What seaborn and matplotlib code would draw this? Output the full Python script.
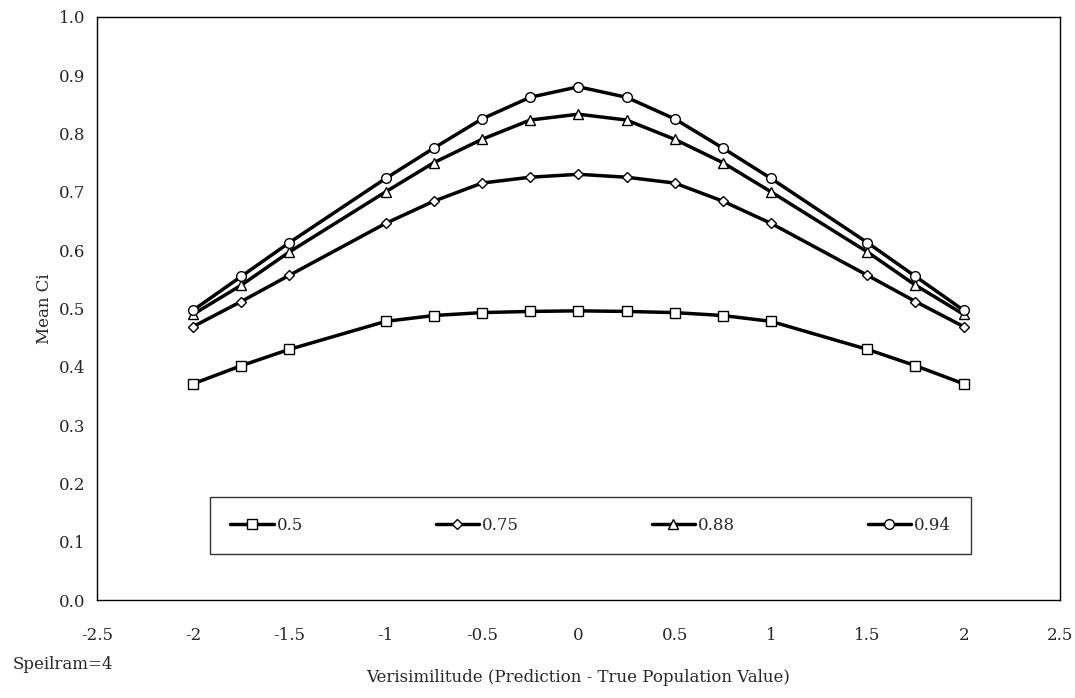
import numpy as np
import pandas as pd
import matplotlib
matplotlib.use("Agg")
import matplotlib.pyplot as plt
import seaborn as sns

x_half = [-2, -1.75, -1.5, -1, -0.75, -0.5, -0.25, 0]
s050 = [0.371, 0.402, 0.430, 0.478, 0.488, 0.493, 0.495, 0.496]
s075 = [0.469, 0.512, 0.557, 0.646, 0.684, 0.715, 0.725, 0.730]
s088 = [0.490, 0.540, 0.597, 0.700, 0.750, 0.790, 0.823, 0.833]
s094 = [0.497, 0.555, 0.613, 0.723, 0.775, 0.825, 0.862, 0.880]

x_vals = x_half + [-v for v in x_half[-2::-1]]
def mirror(s):
    return s + s[-2::-1]

series = {"0.5": (s050, "s"), "0.75": (s075, "D"), "0.88": (s088, "^"), "0.94": (s094, "o")}

rows = []
for name, (vals, _) in series.items():
    for xv, yv in zip(x_vals, mirror(vals)):
        rows.append({"x": xv, "y": yv, "series": name})
df = pd.DataFrame(rows)

sns.set_style("white")
plt.rcParams["font.family"] = ["DejaVu Serif"]

fig, ax = plt.subplots(figsize=(10.75, 6.98), dpi=100)
fig.subplots_adjust(left=0.09, right=0.986, top=0.976, bottom=0.14)

for name, (vals, mk) in series.items():
    sub = df[df["series"] == name]
    sns.lineplot(data=sub, x="x", y="y", ax=ax, color="black", lw=2.5,
                 marker=mk, markersize=7 if mk != "D" else 5,
                 markerfacecolor="white", markeredgecolor="black",
                 markeredgewidth=1.0, label=name)

ax.set_xlim(-2.5, 2.5)
ax.set_ylim(0, 1.0)
ax.set_xticks(np.arange(-2.5, 2.51, 0.5))
ax.set_xticklabels(["-2.5", "-2", "-1.5", "-1", "-0.5", "0", "0.5", "1", "1.5", "2", "2.5"])
ax.set_yticks(np.arange(0, 1.01, 0.1))
ax.set_yticklabels([f"{v:.1f}" for v in np.arange(0, 1.01, 0.1)])
ax.tick_params(axis="both", direction="out", length=5, width=1, labelsize=12, color="black")
ax.tick_params(axis="x", pad=14)
for sp in ax.spines.values():
    sp.set_color("black")
    sp.set_linewidth(1)
ax.set_xlabel("Verisimilitude (Prediction - True Population Value)", fontsize=12, labelpad=18)
ax.set_ylabel("Mean Ci", fontsize=12)
fig.text(0.012, 0.042, "Speilram=4", fontsize=12)

leg = ax.legend(loc="lower left", bbox_to_anchor=(0.118, 0.079, 0.79, 0.117), mode="expand",
                ncol=4, frameon=True, fancybox=False, fontsize=12, handlelength=2.6,
                borderaxespad=0, handletextpad=0.2, borderpad=1.2)
leg.get_frame().set_edgecolor("black")
leg.get_frame().set_linewidth(1)

fig.savefig("out.png", dpi=100)
